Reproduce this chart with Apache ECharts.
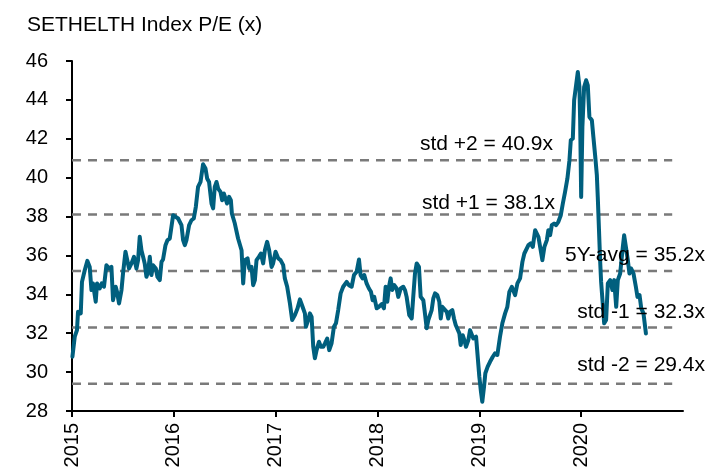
<!DOCTYPE html>
<html>
<head>
<meta charset="utf-8">
<script src="https://cdn.jsdelivr.net/npm/echarts@6/dist/echarts.min.js"></script>
<style>
  html, body { margin: 0; padding: 0; background: #fff; }
  #chart { width: 726px; height: 474px; }
</style>
</head>
<body>
<div id="chart"></div>
<script>
// ---- data (decimal year, P/E) ----
const years = [
  2015.004,2015.027,2015.049,2015.059,2015.086,2015.098,2015.125,2015.151,2015.174,2015.191,
  2015.206,2015.233,2015.246,2015.272,2015.292,2015.314,2015.338,2015.364,2015.387,2015.403,
  2015.429,2015.442,2015.462,2015.486,2015.501,2015.525,2015.541,2015.560,2015.584,2015.609,
  2015.633,2015.649,2015.665,2015.682,2015.698,2015.714,2015.731,2015.747,2015.764,2015.780,
  2015.796,2015.823,2015.839,2015.862,2015.879,2015.894,2015.918,2015.938,2015.960,2015.993,
  2016.019,2016.042,2016.058,2016.075,2016.091,2016.108,2016.124,2016.150,2016.173,2016.196,
  2016.216,2016.238,2016.262,2016.287,2016.311,2016.327,2016.346,2016.370,2016.386,2016.402,
  2016.419,2016.435,2016.458,2016.474,2016.491,2016.508,2016.523,2016.543,2016.560,2016.570,
  2016.599,2016.631,2016.648,2016.665,2016.681,2016.697,2016.724,2016.740,2016.763,2016.779,
  2016.796,2016.812,2016.835,2016.855,2016.877,2016.894,2016.916,2016.936,2016.960,2016.975,
  2016.999,2017.025,2017.048,2017.074,2017.090,2017.113,2017.140,2017.162,2017.189,2017.215,
  2017.238,2017.264,2017.287,2017.297,2017.319,2017.336,2017.353,2017.369,2017.385,2017.402,
  2017.425,2017.444,2017.467,2017.484,2017.506,2017.526,2017.549,2017.572,2017.592,2017.614,
  2017.638,2017.663,2017.697,2017.719,2017.746,2017.769,2017.795,2017.818,2017.834,2017.854,
  2017.870,2017.893,2017.916,2017.936,2017.952,2017.968,2017.992,2018.014,2018.041,2018.063,
  2018.080,2018.096,2018.113,2018.129,2018.145,2018.165,2018.188,2018.204,2018.228,2018.253,
  2018.270,2018.286,2018.312,2018.336,2018.351,2018.368,2018.385,2018.407,2018.424,2018.450,
  2018.466,2018.483,2018.499,2018.532,2018.548,2018.565,2018.587,2018.607,2018.621,2018.636,
  2018.653,2018.680,2018.695,2018.712,2018.735,2018.751,2018.768,2018.784,2018.804,2018.817,
  2018.837,2018.853,2018.869,2018.892,2018.909,2018.926,2018.941,2018.968,2018.984,2019.000,
  2019.016,2019.029,2019.046,2019.059,2019.082,2019.105,2019.132,2019.154,2019.177,2019.203,
  2019.226,2019.253,2019.275,2019.295,2019.319,2019.351,2019.374,2019.400,2019.423,2019.442,
  2019.459,2019.482,2019.505,2019.525,2019.548,2019.580,2019.597,2019.619,2019.639,2019.663,
  2019.678,2019.695,2019.712,2019.734,2019.754,2019.776,2019.800,2019.820,2019.842,2019.865,
  2019.885,2019.898,2019.918,2019.931,2019.950,2019.967,2019.983,2019.990,2020.000,2020.012,
  2020.029,2020.049,2020.065,2020.081,2020.105,2020.120,2020.137,2020.154,2020.163,2020.176,
  2020.186,2020.196,2020.213,2020.226,2020.245,2020.262,2020.285,2020.307,2020.324,2020.344,
  2020.360,2020.383,2020.409,2020.422,2020.439,2020.458,2020.474,2020.491,2020.514,2020.537,
  2020.553,2020.573,2020.590,2020.612,2020.636
];
const pe = [
  30.79,31.82,32.16,33.10,33.02,34.64,35.24,35.72,35.41,34.22,
  34.56,33.62,34.56,34.30,34.56,34.39,35.50,35.33,35.41,33.70,
  34.39,34.13,33.53,34.22,35.07,36.19,36.10,35.33,35.59,35.93,
  35.33,35.76,36.96,36.27,35.93,35.59,34.90,35.16,35.93,34.99,
  35.50,35.33,34.90,34.73,35.67,35.79,36.53,36.79,36.87,38.07,
  37.98,37.90,37.98,37.56,36.79,36.53,36.79,37.56,37.81,37.90,
  38.50,39.53,39.78,40.69,40.47,39.96,39.78,38.67,38.42,39.53,
  39.78,39.44,39.27,38.84,39.19,39.27,38.67,39.01,38.84,38.16,
  37.64,36.87,36.79,36.27,34.56,35.76,35.85,35.33,35.41,34.47,
  34.73,35.76,35.93,36.10,35.59,36.27,36.70,36.27,35.41,35.59,
  36.19,35.85,35.76,35.50,34.82,34.39,33.53,32.68,32.93,33.28,
  33.74,33.36,33.02,32.33,32.68,33.02,32.84,31.30,30.71,31.13,
  31.56,31.30,31.30,31.48,31.73,31.13,31.48,32.33,32.51,33.19,
  34.05,34.39,34.64,34.47,34.39,34.99,35.16,35.79,34.99,34.82,
  34.99,34.56,34.30,34.13,33.70,33.87,33.28,33.36,33.50,33.28,
  34.39,33.62,34.39,34.82,34.22,34.47,34.30,33.87,34.30,34.39,
  34.22,33.87,32.93,32.76,33.87,35.07,35.59,35.41,33.87,33.70,
  33.02,32.25,32.68,33.19,33.79,34.05,33.96,33.62,32.76,33.36,
  33.28,33.10,32.76,33.10,33.19,32.76,32.42,32.33,31.99,31.39,
  31.90,31.65,31.30,31.65,32.16,32.07,31.73,31.82,30.79,29.76,
  28.99,28.48,29.25,29.94,30.28,30.53,30.79,30.96,30.88,31.82,
  32.51,33.02,33.36,34.13,34.39,33.96,34.56,34.82,35.67,36.10,
  36.02,36.53,36.62,36.44,37.30,36.96,36.44,35.76,36.44,36.79,
  37.30,37.04,37.56,37.64,37.56,37.73,38.07,38.67,39.27,39.96,
  40.90,41.92,42.01,43.98,44.07,45.43,44.66,42.95,39.01,42.61,
  44.66,45.01,44.75,43.12,42.95,42.09,41.15,40.13,39.01,39.10,
  35.76,34.64,34.64,32.51,32.68,34.56,34.73,34.22,34.73,33.36,
  34.73,35.07,36.44,37.04,36.44,35.76,35.07,35.33,35.07,34.39,
  33.87,33.96,33.28,33.02,31.99
];
const statValues = [40.9, 38.1, 35.2, 32.3, 29.4];
const statLabels = ['std +2 = 40.9x', 'std +1 = 38.1x', '5Y-avg = 35.2x', 'std -1 = 32.3x', 'std -2 = 29.4x'];
const yearTicks = [2015, 2016, 2017, 2018, 2019, 2020];
const titleText = 'SETHELTH Index P/E (x)';

// ---- presentation ----
const lineStart = 2015;
const lineEnd = 2020.894;
const labelPos = [ // [right edge x px, vertical offset from line px]
  [553, -16], [555, -11], [705, -16], [705, -15], [705, -19]
];
const FONT = '"Liberation Sans", Arial, sans-serif';

const chart = echarts.init(document.getElementById('chart'), null, { renderer: 'canvas' });

const series = [];
statValues.forEach((v) => {
  series.push({
    type: 'line',
    data: [[lineStart, v], [lineEnd, v]],
    symbol: 'none',
    silent: true,
    lineStyle: { color: '#7a7a7a', width: 2.5, type: [9, 7] },
    z: 1
  });
});
series.push({
  type: 'line',
  data: years.map((y, i) => [y, pe[i]]),
  symbol: 'none',
  lineStyle: { color: '#005f7e', width: 4, join: 'round', cap: 'round' },
  z: 5
});

chart.setOption({
  animation: false,
  backgroundColor: '#fff',
  title: {
    text: titleText,
    left: 22, top: 10,
    textStyle: { fontFamily: FONT, fontSize: 21, fontWeight: 'normal', color: '#000' }
  },
  grid: { left: 72, right: 43, top: 61, bottom: 63, containLabel: false },
  xAxis: {
    type: 'value',
    min: 2015, max: 2021,
    axisLine: { show: true, lineStyle: { color: '#000', width: 2 } },
    axisTick: { show: true, length: 6, inside: false, lineStyle: { color: '#000', width: 2 }, customValues: yearTicks },
    axisLabel: {
      customValues: yearTicks,
      rotate: 90, margin: 12,
      fontFamily: FONT, fontSize: 20, color: '#000',
      formatter: v => String(Math.round(v))
    },
    splitLine: { show: false }
  },
  yAxis: {
    type: 'value',
    min: 28, max: 46, interval: 2,
    axisLine: { show: true, lineStyle: { color: '#000', width: 2 } },
    axisTick: { show: true, length: 6, inside: false, lineStyle: { color: '#000', width: 2 } },
    axisLabel: { margin: 24, fontFamily: FONT, fontSize: 20, color: '#000' },
    splitLine: { show: false }
  },
  series: series
});

const graphics = statValues.map((v, i) => {
  const p = chart.convertToPixel({ gridIndex: 0 }, [2018, v]);
  return {
    type: 'text',
    x: labelPos[i][0],
    y: p[1] + labelPos[i][1],
    z: 10,
    style: {
      text: statLabels[i],
      fontFamily: FONT, fontSize: 21, fill: '#000',
      align: 'right', verticalAlign: 'middle'
    }
  };
});
chart.setOption({ graphic: graphics });
</script>
</body>
</html>
